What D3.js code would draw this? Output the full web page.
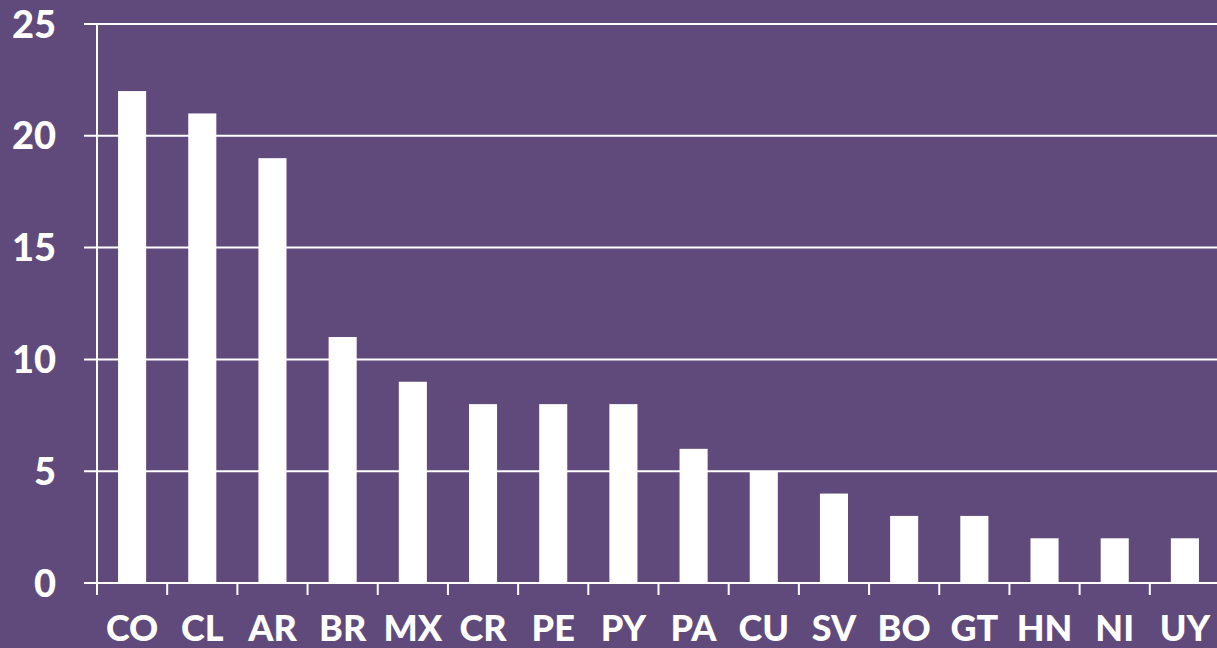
<!DOCTYPE html>
<html>
<head>
<meta charset="UTF-8">
<script src="https://d3js.org/d3.v7.min.js"></script>
<style>
  body { margin: 0; background: #604a7b; }
  svg text { font-family: Lato, "Open Sans", sans-serif; font-weight: 900; fill: #fff; }
</style>
</head>
<body>
<div id="chart"></div>
<script>
// data
const countries = ["CO","CL","AR","BR","MX","CR","PE","PY","PA","CU","SV","BO","GT","HN","NI","UY"];
const counts = [22, 21, 19, 11, 9, 8, 8, 8, 6, 5, 4, 3, 3, 2, 2, 2];
const yTicks = [0, 5, 10, 15, 20, 25];

const W = 1217, H = 648;
const margin = {top: 24, right: 0, bottom: 65, left: 97};

const svg = d3.select("#chart").append("svg")
  .attr("width", W).attr("height", H)
  .style("background", "#604a7b");

const x = d3.scaleBand()
  .domain(countries)
  .range([margin.left, W + 3])
  .paddingInner(0.6).paddingOuter(0.3);

const y = d3.scaleLinear().domain([0, 25]).range([H - margin.bottom, margin.top]);

// gridlines
svg.append("g").selectAll("line")
  .data(yTicks)
  .join("line")
  .attr("x1", 84).attr("x2", W)
  .attr("y1", d => y(d)).attr("y2", d => y(d))
  .attr("stroke", "#fff").attr("stroke-width", 2);

// y labels
svg.append("g").selectAll("text")
  .data(yTicks)
  .join("text")
  .attr("x", 56).attr("y", d => y(d))
  .attr("dy", "0.36em")
  .attr("text-anchor", "end")
  .style("font-size", "38px")
  .text(d => d);

// bars
svg.append("g").selectAll("rect")
  .data(countries)
  .join("rect")
  .attr("x", d => x(d))
  .attr("width", x.bandwidth())
  .attr("y", (d, i) => y(counts[i]))
  .attr("height", (d, i) => y(0) - y(counts[i]))
  .attr("fill", "#fff");

// y axis line
svg.append("line")
  .attr("x1", margin.left).attr("x2", margin.left)
  .attr("y1", y(25)).attr("y2", y(0) + 12)
  .attr("stroke", "#fff").attr("stroke-width", 2);

// x tick marks between categories
const step = x.step();
svg.append("g").selectAll("line")
  .data(d3.range(countries.length))
  .join("line")
  .attr("x1", i => margin.left + i * step)
  .attr("x2", i => margin.left + i * step)
  .attr("y1", y(0)).attr("y2", y(0) + 12)
  .attr("stroke", "#fff").attr("stroke-width", 2);

// x labels
svg.append("g").selectAll("text")
  .data(countries)
  .join("text")
  .attr("x", d => x(d) + x.bandwidth() / 2)
  .attr("y", 641)
  .attr("text-anchor", "middle")
  .style("font-size", "36px")
  .text(d => d);
</script>
</body>
</html>
